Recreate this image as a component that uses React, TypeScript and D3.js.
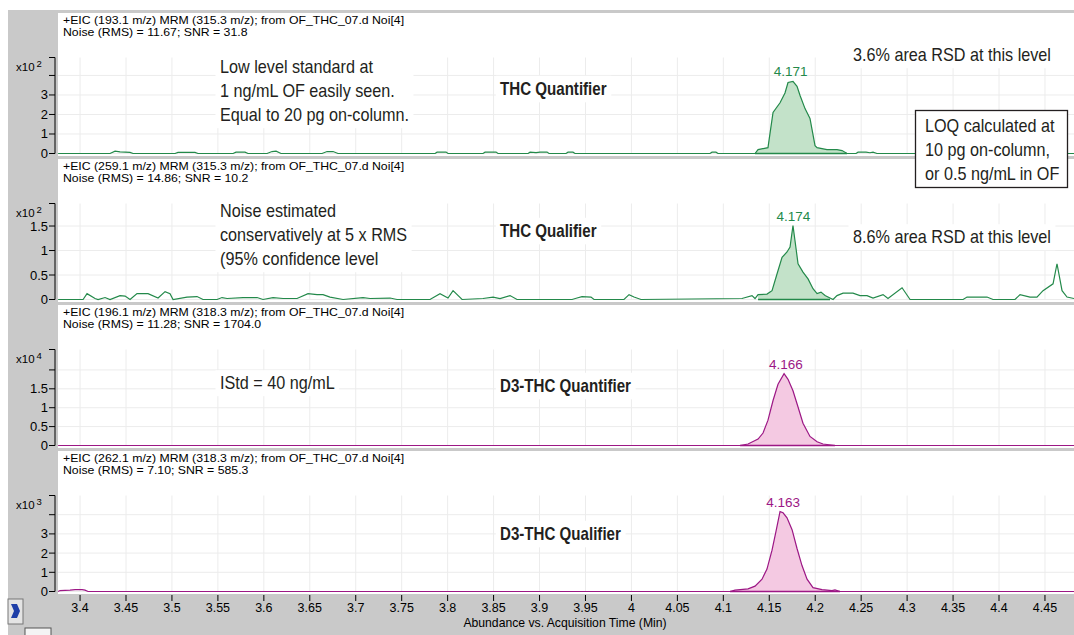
import React, { useEffect, useRef } from "react";
import * as d3 from "d3";

const W = 1074;
const H = 635;

// x axis (minutes)
const xTickLabels = ["3.4", "3.45", "3.5", "3.55", "3.6", "3.65", "3.7", "3.75", "3.8", "3.85", "3.9", "3.95", "4", "4.05", "4.1", "4.15", "4.2", "4.25", "4.3", "4.35", "4.4", "4.45"];
const xTitle = "Abundance vs. Acquisition Time (Min)";

// panel headers
const headerLines1 = ["+EIC (193.1 m/z) MRM (315.3 m/z); from OF_THC_07.d Noi[4]", "Noise (RMS) = 11.67; SNR = 31.8"];
const headerLines2 = ["+EIC (259.1 m/z) MRM (315.3 m/z); from OF_THC_07.d Noi[4]", "Noise (RMS) = 14.86; SNR = 10.2"];
const headerLines3 = ["+EIC (196.1 m/z) MRM (318.3 m/z); from OF_THC_07.d Noi[4]", "Noise (RMS) = 11.28; SNR = 1704.0"];
const headerLines4 = ["+EIC (262.1 m/z) MRM (318.3 m/z); from OF_THC_07.d Noi[4]", "Noise (RMS) = 7.10; SNR = 585.3"];

// y axes
const exponents = [2, 2, 4, 3];
const yMaxes = [4.92, 1.96, 2.54, 5.0];
const yTicks = [[0, 1, 2, 3, 4], [0, 0.5, 1, 1.5], [0, 0.5, 1, 1.5, 2], [0, 1, 2, 3, 4]];
const yTickLabels = [["0", "1", "2", "3", ""], ["0", "0.5", "1", "1.5"], ["0", "0.5", "1", "1.5", ""], ["0", "1", "2", "3", ""]];

// peaks
const peakLabels = ["4.171", "4.174", "4.166", "4.163"];
const peakStarts = [4.1345, 4.1378, 4.1182, 4.1073];
const peakEnds = [4.2346, 4.2161, 4.2215, 4.227];

// THC quantifier 193.1 (x10^2)
const times1 = [3.3761, 3.4326, 3.4381, 3.4435, 3.4544, 3.4577, 3.5034, 3.5066, 3.5251, 3.5284, 3.5665, 3.5697, 3.5795, 3.5828, 3.6035, 3.6089, 3.6133, 3.6187, 3.6633, 3.6688, 3.6753, 3.6807, 3.7863, 3.7885, 3.7983, 3.8004, 3.8385, 3.8407, 3.8527, 3.8548, 3.8875, 3.8897, 3.8962, 3.9005, 3.9082, 3.9103, 3.9288, 3.931, 3.9364, 3.9386, 4.0855, 4.0877, 4.092, 4.0942, 4.1345, 4.1378, 4.1486, 4.1508, 4.1541, 4.1617, 4.1671, 4.1704, 4.1758, 4.1802, 4.1835, 4.1889, 4.1943, 4.1998, 4.202, 4.2128, 4.2237, 4.2292, 4.2346, 4.2444, 4.2466, 4.2553, 4.2596, 4.2629, 4.2672, 4.4816];
const values1 = [0, 0, 0.12, 0.08, 0.06, 0, 0, 0.06, 0.06, 0, 0, 0.07, 0.07, 0, 0, 0.1, 0.12, 0, 0, 0.1, 0.1, 0, 0, 0.07, 0.07, 0, 0, 0.07, 0.07, 0, 0, 0.07, 0.05, 0.07, 0.07, 0, 0, 0.07, 0.07, 0, 0, 0.07, 0.07, 0, 0, 0.2, 0.3, 1.03, 2.1, 2.6, 3.1, 3.64, 3.7, 3.44, 2.97, 2.3, 1.8, 0.4, 0.3, 0.2, 0.2, 0.15, 0, 0, 0.07, 0.07, 0.04, 0.07, 0, 0];

// THC qualifier 259.1 (x10^2)
const times2 = [3.3761, 3.4033, 3.4076, 3.4163, 3.4196, 3.4272, 3.4326, 3.4435, 3.449, 3.4544, 3.462, 3.474, 3.4849, 3.4925, 3.4979, 3.5012, 3.5164, 3.5273, 3.5338, 3.5491, 3.5545, 3.56, 3.5774, 3.5926, 3.5991, 3.61, 3.6209, 3.6361, 3.6481, 3.6579, 3.6644, 3.672, 3.6862, 3.7079, 3.7156, 3.7373, 3.7449, 3.7808, 3.7917, 3.8004, 3.8059, 3.8157, 3.8385, 3.8494, 3.857, 3.8679, 3.8755, 3.9354, 3.9408, 3.9462, 3.956, 3.9593, 3.9919, 3.9974, 4.0028, 4.0104, 4.1203, 4.1312, 4.1345, 4.1378, 4.1475, 4.153, 4.1584, 4.1639, 4.1693, 4.1726, 4.1758, 4.178, 4.1813, 4.1867, 4.1922, 4.1976, 4.202, 4.2063, 4.2107, 4.2161, 4.2194, 4.2237, 4.2303, 4.2411, 4.2487, 4.2564, 4.2629, 4.2738, 4.2792, 4.2945, 4.3032, 4.3609, 4.3652, 4.3869, 4.3935, 4.4174, 4.4229, 4.4337, 4.4413, 4.4479, 4.4588, 4.4631, 4.4686, 4.474, 4.4816];
const values2 = [0, 0, 0.12, 0.02, 0, 0.04, 0, 0.08, 0.07, 0, 0.12, 0.12, 0.03, 0.16, 0.12, 0, 0.05, 0.06, 0, 0, 0.04, 0.02, 0.04, 0.04, 0, 0.04, 0.02, 0.02, 0.12, 0.1, 0.1, 0.05, 0, 0.04, 0.02, 0.03, 0, 0, 0.12, 0.03, 0.18, 0, 0.02, 0.05, 0.02, 0.08, 0, 0, 0.03, 0.06, 0.05, 0, 0, 0.1, 0.05, 0, 0.02, 0.08, 0.02, 0.1, 0.11, 0.18, 0.52, 0.86, 0.97, 1.07, 1.51, 1.2, 0.73, 0.56, 0.42, 0.22, 0.12, 0.15, 0.08, 0.03, 0, 0.08, 0.13, 0.13, 0.08, 0.08, 0.03, 0.1, 0.02, 0.24, 0, 0, 0.05, 0.05, 0, 0, 0.1, 0.05, 0.05, 0.18, 0.32, 0.73, 0.18, 0.05, 0.02];

// D3-THC quantifier 196.1 (x10^4)
const times3 = [3.3761, 4.1182, 4.1269, 4.1378, 4.1432, 4.1486, 4.1541, 4.1595, 4.1661, 4.1704, 4.1758, 4.1813, 4.1867, 4.1943, 4.202, 4.2085, 4.2215, 4.4816];
const values3 = [0, 0, 0.04, 0.17, 0.33, 0.67, 1.19, 1.62, 1.9, 1.75, 1.45, 1.02, 0.59, 0.24, 0.1, 0.04, 0, 0];

// D3-THC qualifier 262.1 (x10^3)
const times4 = [3.3761, 3.3782, 3.3891, 3.3946, 3.4022, 3.4054, 3.4087, 4.1073, 4.1127, 4.1269, 4.1345, 4.1421, 4.1475, 4.153, 4.1573, 4.1617, 4.165, 4.1693, 4.1748, 4.1802, 4.1856, 4.1911, 4.1976, 4.2074, 4.2183, 4.2215, 4.227, 4.4816];
const values4 = [0, 0.05, 0.07, 0.1, 0.1, 0.07, 0, 0, 0.07, 0.14, 0.28, 0.64, 1.17, 2.15, 3.13, 4.16, 4.1, 3.84, 3.22, 2.24, 1.35, 0.64, 0.2, 0.1, 0.05, 0.08, 0, 0];

const headers = [headerLines1, headerLines2, headerLines3, headerLines4];
const traceTimes = [times1, times2, times3, times4];
const traceValues = [values1, values2, values3, values4];

const GREEN = "#23894a";
const GREEN_FILL = "#c3e2c9";
const PURPLE = "#9c1785";
const PURPLE_FILL = "#f4c9e2";
const traceColors = [GREEN, GREEN, PURPLE, PURPLE];
const fillColors = [GREEN_FILL, GREEN_FILL, PURPLE_FILL, PURPLE_FILL];

const annotations = [
  { x: 220, y: 73, lines: ["Low level standard at", "1 ng/mL OF easily seen.", "Equal to 20 pg on-column."], bold: false },
  { x: 500, y: 95, lines: ["THC Quantifier"], bold: true },
  { x: 853, y: 61, lines: ["3.6% area RSD at this level"], bold: false },
  { x: 220, y: 217, lines: ["Noise estimated", "conservatively at 5 x RMS", "(95% confidence level"], bold: false },
  { x: 500, y: 237, lines: ["THC Qualifier"], bold: true },
  { x: 853, y: 243, lines: ["8.6% area RSD at this level"], bold: false },
  { x: 220, y: 389, lines: ["IStd = 40 ng/mL"], bold: false },
  { x: 500, y: 392, lines: ["D3-THC Quantifier"], bold: true },
  { x: 500, y: 540, lines: ["D3-THC Qualifier"], bold: true },
];
const loqLines = ["LOQ calculated at", "10 pg on-column,", "or 0.5 ng/mL in OF"];

const BG = "#c9c9c9";
const SMALL_FONT = "'Liberation Sans', Arial, sans-serif";
const NOTE_FONT = "'Liberation Sans', Arial, sans-serif";
const NOTE_SIZE = 18;
const NOTE_SCALE = 0.9;
const BOLD_SCALE = 0.84;

const PLOT_LEFT = 58;
const PANEL_TOPS = [13, 159, 305, 451];
const PANEL_H = 143;

export default function App() {
  const svgRef = useRef<SVGSVGElement>(null);

  useEffect(() => {
    if (!svgRef.current) return;
    const svg = d3.select(svgRef.current);
    svg.selectAll("*").remove();

    const x = d3.scaleLinear().domain([3.376, 4.4816]).range([PLOT_LEFT, W]);
    const xTicks = xTickLabels.map(Number);

    // window background
    svg.append("rect").attr("width", W).attr("height", H).attr("fill", "#fff");
    svg.append("rect").attr("x", 8).attr("y", 10).attr("width", W - 8).attr("height", H - 10).attr("fill", BG);

    PANEL_TOPS.forEach((top, p) => {
      const capY = top + 44.5;
      const zeroY = top + 140.5;
      const y = d3.scaleLinear().domain([0, yMaxes[p]]).range([zeroY, capY]);
      const g = svg.append("g");

      g.append("rect")
        .attr("x", PLOT_LEFT)
        .attr("y", top)
        .attr("width", W - PLOT_LEFT)
        .attr("height", PANEL_H)
        .attr("fill", "#fff");

      // grid
      g.selectAll(".vg")
        .data(xTicks)
        .enter()
        .append("line")
        .attr("x1", (d) => x(d))
        .attr("x2", (d) => x(d))
        .attr("y1", capY)
        .attr("y2", zeroY)
        .attr("stroke", "#ececec");
      g.selectAll(".hg")
        .data(yTicks[p])
        .enter()
        .append("line")
        .attr("x1", PLOT_LEFT)
        .attr("x2", W)
        .attr("y1", (d) => y(d))
        .attr("y2", (d) => y(d))
        .attr("stroke", "#ececec");

      // header (stretched a bit to mimic the wide UI font)
      const hg = g.append("g").attr("transform", "translate(63,0) scale(1.17,1)");
      headers[p].forEach((line, i) => {
        hg.append("text")
          .attr("x", 0)
          .attr("y", top + 11.5 + i * 12)
          .attr("font-family", SMALL_FONT)
          .attr("font-size", 10.5)
          .attr("fill", "#000")
          .text(line);
      });

      // trace
      const pts = traceTimes[p].map((t, i) => ({ t, v: traceValues[p][i] }));
      const inPeak = pts.filter((d) => d.t >= peakStarts[p] - 1e-6 && d.t <= peakEnds[p] + 1e-6);
      const area = d3
        .area<{ t: number; v: number }>()
        .x((d) => x(d.t))
        .y0(zeroY)
        .y1((d) => y(d.v));
      g.append("path").datum(inPeak).attr("d", area).attr("fill", fillColors[p]);
      g.append("line")
        .attr("x1", x(peakStarts[p]))
        .attr("x2", x(peakEnds[p]))
        .attr("y1", zeroY)
        .attr("y2", zeroY)
        .attr("stroke", traceColors[p])
        .attr("stroke-width", 1.5);
      const line = d3
        .line<{ t: number; v: number }>()
        .x((d) => x(d.t))
        .y((d) => y(d.v));
      g.append("path")
        .datum(pts)
        .attr("d", line)
        .attr("fill", "none")
        .attr("stroke", traceColors[p])
        .attr("stroke-width", 1.2);

      // peak label
      const maxV = d3.max(inPeak, (d) => d.v) || 0;
      g.append("text")
        .attr("x", x(+peakLabels[p]) + 2)
        .attr("y", y(maxV) - 5)
        .attr("text-anchor", "middle")
        .attr("font-family", SMALL_FONT)
        .attr("font-size", 13.5)
        .attr("fill", traceColors[p])
        .text(peakLabels[p]);

      // y axis
      const ax = 55;
      g.append("line").attr("x1", ax).attr("x2", ax).attr("y1", capY).attr("y2", zeroY).attr("stroke", "#000");
      g.append("line").attr("x1", ax - 6).attr("x2", ax).attr("y1", capY).attr("y2", capY).attr("stroke", "#000");
      yTicks[p].forEach((v, i) => {
        g.append("line").attr("x1", ax - 6).attr("x2", ax).attr("y1", y(v)).attr("y2", y(v)).attr("stroke", "#000");
        g.append("text")
          .attr("x", ax - 7)
          .attr("y", y(v) + 4.5)
          .attr("text-anchor", "end")
          .attr("font-family", SMALL_FONT)
          .attr("font-size", 13)
          .attr("fill", "#000")
          .text(yTickLabels[p][i]);
      });
      const ex = g
        .append("text")
        .attr("x", 16)
        .attr("y", capY + 13)
        .attr("font-family", SMALL_FONT)
        .attr("font-size", 11.5)
        .attr("fill", "#000");
      ex.append("tspan").text("x10");
      ex.append("tspan").attr("dx", 2).attr("dy", -4).attr("font-size", 9.5).text(String(exponents[p]));
    });

    // x axis
    const axisY = PANEL_TOPS[3] + PANEL_H + 1;
    xTicks.forEach((t, i) => {
      svg.append("line").attr("x1", x(t)).attr("x2", x(t)).attr("y1", axisY).attr("y2", axisY + 6).attr("stroke", "#000");
      svg
        .append("text")
        .attr("x", x(t))
        .attr("y", axisY + 17)
        .attr("text-anchor", "middle")
        .attr("font-family", SMALL_FONT)
        .attr("font-size", 12.5)
        .attr("fill", "#000")
        .text(xTickLabels[i]);
    });
    svg
      .append("text")
      .attr("x", 565)
      .attr("y", axisY + 32)
      .attr("text-anchor", "middle")
      .attr("font-family", SMALL_FONT)
      .attr("font-size", 12.2)
      .attr("fill", "#000")
      .text(xTitle);

    // little toolbar button at bottom-left
    svg.append("rect").attr("x", 8).attr("y", 599).attr("width", 15).attr("height", 25).attr("fill", "#e4e4e4").attr("stroke", "#777");
    svg.append("path").attr("d", "M11,604 L17,604 L20,611 L17,618 L11,618 L14,611 Z").attr("fill", "#1f3fa8");
    svg.append("rect").attr("x", 25).attr("y", 628).attr("width", 26).attr("height", 10).attr("fill", "#f4f4f4").attr("stroke", "#555");

    // annotations (condensed look via horizontal scaling)
    const drawNote = (a: { x: number; y: number; lines: string[]; bold: boolean }) => {
      const sx = a.bold ? BOLD_SCALE : NOTE_SCALE;
      const ng = svg.append("g").attr("transform", `translate(${a.x},0) scale(${sx},1)`);
      const bg = ng.append("rect").attr("fill", "#fff");
      const t = ng
        .append("text")
        .attr("font-family", NOTE_FONT)
        .attr("font-size", NOTE_SIZE)
        .attr("font-weight", a.bold ? "bold" : "normal")
        .attr("fill", "#231f20");
      a.lines.forEach((l, i) => {
        t.append("tspan").attr("x", 0).attr("y", a.y + i * 24).text(l);
      });
      const bb = (t.node() as SVGTextElement).getBBox();
      bg.attr("x", bb.x - 5).attr("y", bb.y - 3).attr("width", bb.width + 10).attr("height", bb.height + 6);
    };
    annotations.forEach(drawNote);

    const loq = svg.append("g");
    loq.append("rect").attr("x", 915.5).attr("y", 110.5).attr("width", 152).attr("height", 77).attr("fill", "#fff").attr("stroke", "#231f20").attr("stroke-width", 1.3);
    const lt = loq
      .append("text")
      .attr("transform", `translate(925,0) scale(${NOTE_SCALE},1)`)
      .attr("font-family", NOTE_FONT)
      .attr("font-size", NOTE_SIZE)
      .attr("fill", "#231f20");
    loqLines.forEach((l, i) => {
      lt.append("tspan").attr("x", 0).attr("y", 132 + i * 24).text(l);
    });
  }, []);

  return (
    <>
      <style>{"html,body{margin:0;padding:0;overflow:hidden;}"}</style>
      <svg ref={svgRef} width={W} height={H} style={{ display: "block" }} />
    </>
  );
}
